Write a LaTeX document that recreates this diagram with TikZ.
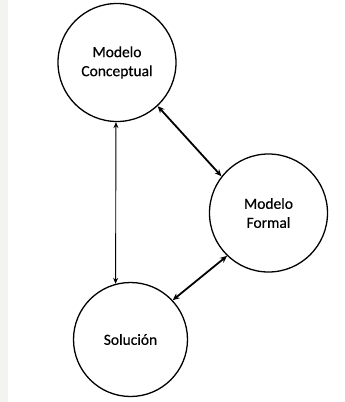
\documentclass[tikz,border=0pt]{standalone}
\usepackage{fontspec}
\setmainfont{Carlito}
\newfontface\labelface{Carlito}[FakeBold=0.5]
\usetikzlibrary{arrows.meta}
\definecolor{panel}{HTML}{F3F3EF}
\begin{document}
\begin{tikzpicture}[x=1pt,y=-1pt,
  stage/.style={circle,draw,line width=1.3pt,minimum size=118pt,inner sep=0pt,
    align=center,font=\labelface\fontsize{15.5}{19}\selectfont},
  thinlink/.style={line width=0.9pt,{Stealth[length=6pt,width=5pt]}-{Stealth[length=6pt,width=5pt]}},
  thicklink/.style={line width=1.8pt,{Stealth[length=7pt,width=6pt]}-{Stealth[length=7pt,width=6pt]}},
]
% page background with the grey strip on the left
\fill[white] (0,0) rectangle (345,402);
\fill[panel] (0,0) rectangle (8,402);
\useasboundingbox (0,0) rectangle (345,402);

% the three stages
\node[stage] (mc) at (117,62.5) {Modelo\\Conceptual};
\node[stage] (mf) at (268.5,213) {Modelo\\Formal};
\node[stage,minimum size=114pt] (sol) at (130.5,339.5) {Solución};

% two-way links between the stages
\draw[thinlink] (mc.-91) -- (sol.105);
\draw[thicklink] (mc.-47) -- (mf.142);
\draw[thicklink] (mf.226.7) -- (sol.43.6);
\end{tikzpicture}
\end{document}
